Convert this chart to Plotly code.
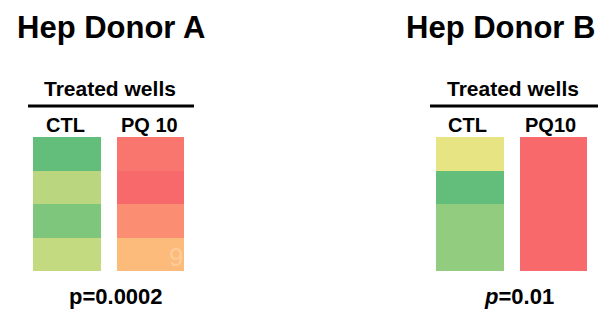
import plotly.graph_objects as go

W, H = 602, 311

# ---- data ----
treatments_a = ["CTL", "PQ 10"]
treatments_b = ["CTL", "PQ10"]
wells = ["W1", "W2", "W3", "W4"]
# relative colour-scale values (0 = green, 0.5 = yellow, 1 = red), rows = wells
donor_a_ctl = [0.00, 0.28, 0.09, 0.31]
donor_a_pq = [0.95, 1.00, 0.86, 0.69]
donor_b_ctl = [0.42, 0.00, 0.15, 0.15]
donor_b_pq = [1.00, 1.00, 1.00, 1.00]
titles = ["Hep Donor A", "Hep Donor B"]
header = "Treated wells"
p_values = ["p=0.0002", "<i>p</i>=0.01"]

colorscale = [[0.0, "#63BE7B"], [0.5, "#FFEB84"], [1.0, "#F8696B"]]
FONT = "Liberation Sans, Arial, sans-serif"


def px_x(p):
    return p / W


def px_y(p):
    return 1 - p / H


def z_matrix(ctl, pq):
    return [[c, q] for c, q in zip(ctl, pq)]


fig = go.Figure()
fig.add_trace(go.Heatmap(
    z=z_matrix(donor_a_ctl, donor_a_pq), x=treatments_a, y=wells,
    colorscale=colorscale, zmin=0, zmax=1, showscale=False, xgap=16,
    xaxis="x", yaxis="y", hoverinfo="z"))
fig.add_trace(go.Heatmap(
    z=z_matrix(donor_b_ctl, donor_b_pq), x=treatments_b, y=wells,
    colorscale=colorscale, zmin=0, zmax=1, showscale=False, xgap=16,
    xaxis="x2", yaxis="y2", hoverinfo="z"))

ax_common = dict(showticklabels=False, showgrid=False, zeroline=False, showline=False, ticks="")
ydom = [px_y(271), px_y(137)]
fig.update_layout(
    width=W, height=H, margin=dict(l=0, r=0, t=0, b=0),
    paper_bgcolor="white", plot_bgcolor="white", showlegend=False,
    xaxis=dict(domain=[px_x(25), px_x(192)], **ax_common),
    yaxis=dict(domain=ydom, autorange="reversed", **ax_common),
    xaxis2=dict(domain=[px_x(428), px_x(595)], anchor="y2", **ax_common),
    yaxis2=dict(domain=ydom, anchor="x2", autorange="reversed", **ax_common),
)

ann = []


def text(s, cx, cy, size):
    ann.append(dict(text=s, x=px_x(cx), y=px_y(cy), xref="paper", yref="paper",
                    xanchor="center", yanchor="middle", showarrow=False,
                    font=dict(family=FONT, size=size, color="black")))


# Donor A
text("<b>%s</b>" % titles[0], 111, 28, 31)
text("<b>%s</b>" % header, 110, 88, 21)
text("<b>%s</b>" % treatments_a[0], 65, 125, 20)
text("<b>%s</b>" % treatments_a[1], 149, 125, 20)
text("<b>%s</b>" % p_values[0], 115.5, 296, 22)
# Donor B
text("<b>%s</b>" % titles[1], 500, 28, 31)
text("<b>%s</b>" % header, 512.5, 88, 21)
text("<b>%s</b>" % treatments_b[0], 467.5, 125, 20)
text("<b>%s</b>" % treatments_b[1], 550.5, 125, 20)
text("<b>%s</b>" % p_values[1], 519, 296, 22)

# faint watermark digit in donor A PQ bottom cell
ann.append(dict(text="9", x=px_x(176), y=px_y(257), xref="paper", yref="paper",
                xanchor="center", yanchor="middle",
                showarrow=False, font=dict(family=FONT, size=26, color="rgba(255,220,180,0.55)")))

fig.update_layout(annotations=ann)

fig.update_layout(shapes=[
    dict(type="line", xref="paper", yref="paper", x0=px_x(28), x1=px_x(194),
         y0=px_y(106), y1=px_y(106), line=dict(color="black", width=3)),
    dict(type="line", xref="paper", yref="paper", x0=px_x(430), x1=px_x(598),
         y0=px_y(106), y1=px_y(106), line=dict(color="black", width=3)),
])

fig.write_html("out.html", config={"displayModeBar": False},
               post_script="document.body.style.margin='0';")
